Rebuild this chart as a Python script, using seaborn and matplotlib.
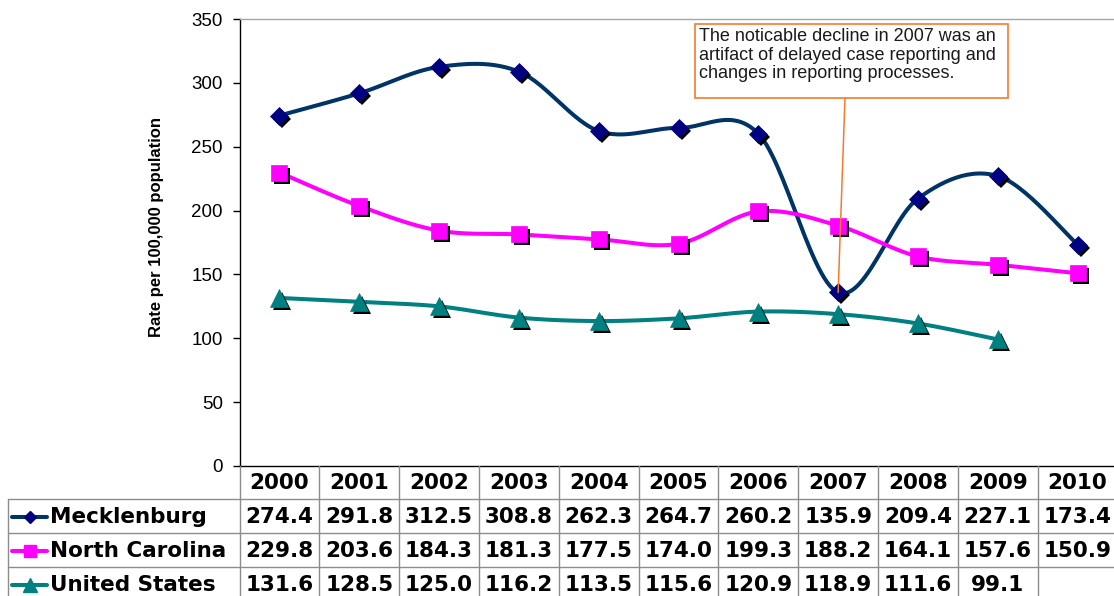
import numpy as np
import pandas as pd
import matplotlib
matplotlib.use("Agg")
import matplotlib.pyplot as plt
import matplotlib.transforms as mtransforms
from matplotlib.patches import Rectangle
from matplotlib.lines import Line2D
import seaborn as sns

# ---- data -------------------------------------------------------------
years = [2000, 2001, 2002, 2003, 2004, 2005, 2006, 2007, 2008, 2009, 2010]
mecklenburg = [274.4, 291.8, 312.5, 308.8, 262.3, 264.7, 260.2, 135.9, 209.4, 227.1, 173.4]
north_carolina = [229.8, 203.6, 184.3, 181.3, 177.5, 174.0, 199.3, 188.2, 164.1, 157.6, 150.9]
united_states = [131.6, 128.5, 125.0, 116.2, 113.5, 115.6, 120.9, 118.9, 111.6, 99.1, None]
series_names = ["Mecklenburg", "North Carolina", "United States"]
y_ticks = [0, 50, 100, 150, 200, 250, 300, 350]
y_label = "Rate per 100,000 population"
note_text = ("The noticable decline in 2007 was an\n"
             "artifact of delayed case reporting and\n"
             "changes in reporting processes.")
note_year = 2007

# ---- styling ------------------------------------------------------------
line_colors = ["#003366", "#FF00FF", "#008080"]
marker_faces = ["#000080", "#FF00FF", "#008080"]
marker_shapes = ["D", "s", "^"]
marker_sizes = [8.8, 12.0, 13.5]
key_marker_sizes = [6.5, 9.0, 10.0]
orange = "#F47A2E"
grid_gray = "#8C8C8C"

sns.set_theme(style="white")
plt.rcParams["font.family"] = ["Liberation Sans", "DejaVu Sans"]

W, H = 1114, 596
fig = plt.figure(figsize=(W / 100, H / 100), dpi=100)
ax_left, ax_right, ax_top, ax_bottom = 239.5, 1117.5, 19, 466
ax = fig.add_axes([ax_left / W, 1 - ax_bottom / H,
                   (ax_right - ax_left) / W, (ax_bottom - ax_top) / H])


def smooth_curve(xv, yv, steps=30):
    """Cubic Bezier pieces with Catmull-Rom tangents (smoothed-line look)."""
    pts = np.column_stack([xv, yv]).astype(float)
    n = len(pts)
    t = np.linspace(0, 1, steps)[:, None]
    out = []
    for i in range(n - 1):
        p0 = pts[max(i - 1, 0)]
        p1 = pts[i]
        p2 = pts[i + 1]
        p3 = pts[min(i + 2, n - 1)]
        c1 = p1 + (p2 - p0) / 6.0
        c2 = p2 - (p3 - p1) / 6.0
        seg = ((1 - t) ** 3) * p1 + 3 * ((1 - t) ** 2) * t * c1 \
            + 3 * (1 - t) * t ** 2 * c2 + t ** 3 * p2
        out.append(seg if i == 0 else seg[1:])
    return np.vstack(out)


all_series = [mecklenburg, north_carolina, united_states]
positions = np.arange(len(years))

frames = []
for name, vals in zip(series_names, all_series):
    vals = np.array([np.nan if v is None else v for v in vals], dtype=float)
    ok = ~np.isnan(vals)
    curve = smooth_curve(positions[ok], vals[ok])
    frames.append(pd.DataFrame({"x": curve[:, 0], "y": curve[:, 1], "series": name}))
curve_df = pd.concat(frames, ignore_index=True)

sns.lineplot(data=curve_df, x="x", y="y", hue="series", hue_order=series_names,
             palette=dict(zip(series_names, line_colors)), sort=False,
             estimator=None, linewidth=2.9, legend=False, ax=ax, zorder=2)

shadow = mtransforms.offset_copy(ax.transData, fig=fig, x=3, y=-3, units="dots")
for i, vals in enumerate(all_series):
    vals = np.array([np.nan if v is None else v for v in vals], dtype=float)
    ax.plot(positions, vals, linestyle="none", marker=marker_shapes[i],
            ms=marker_sizes[i], color="black", markeredgewidth=0,
            transform=shadow, zorder=3 + 2 * i)
    ax.plot(positions, vals, linestyle="none", marker=marker_shapes[i],
            ms=marker_sizes[i], markerfacecolor=marker_faces[i],
            markeredgecolor=marker_faces[i], markeredgewidth=0.5, zorder=4 + 2 * i)

ax.set_xlim(-0.5, len(years) - 0.5)
ax.set_ylim(0, 350)
ax.set_yticks(y_ticks)
ax.set_xticks([])
ax.set_xlabel("")
ax.set_ylabel(y_label, fontsize=12, fontweight="bold", color="black")
ax.yaxis.set_label_coords((164 - ax_left) / (ax_right - ax_left), (ax_bottom - 227) / (ax_bottom - ax_top))
ax.tick_params(axis="y", which="major", left=True, length=5, width=1, color="black",
               direction="out", labelsize=13.5, labelcolor="black", pad=7)
for side in ["left", "bottom"]:
    ax.spines[side].set_color("black")
    ax.spines[side].set_linewidth(1.0)
ax.spines["top"].set_color("#A6A6A6")
ax.spines["top"].set_linewidth(1.0)
ax.spines["right"].set_visible(False)
ax.grid(False)

# ---- data table under the plot ----------------------------------------
def fy(py):
    return 1 - py / H

def fx(px):
    return px / W

tab_x = mtransforms.blended_transform_factory(ax.transData, fig.transFigure)
row_lines = [499, 533, 567]
row_centers = [517, 551, 585]
header_center = 483
label_left = 8

for j, yr in enumerate(years):
    fig.text(0, 0, str(yr), transform=tab_x, fontsize=15.5, fontweight="bold",
             family=["DejaVu Sans"], ha="center", va="center", color="black").set_position((j, fy(header_center)))

for i, (name, vals) in enumerate(zip(series_names, all_series)):
    yc = fy(row_centers[i])
    for j, v in enumerate(vals):
        if v is None:
            continue
        fig.text(j, yc, f"{v:.1f}", transform=tab_x, fontsize=15.5,
                 fontweight="bold", family=["DejaVu Sans"], ha="center",
                 va="center", color="black")
    fig.text(fx(50), yc, name, fontsize=15.5, fontweight="bold",
             family=["DejaVu Sans"], ha="left", va="center", color="black")
    # legend key: line segment with marker
    fig.add_artist(Line2D([fx(12), fx(47)], [yc, yc], color=line_colors[i],
                          linewidth=2.9, transform=fig.transFigure))
    fig.add_artist(Line2D([fx(29.5)], [yc], linestyle="none", marker=marker_shapes[i],
                          ms=key_marker_sizes[i], markerfacecolor=marker_faces[i],
                          markeredgecolor=marker_faces[i], transform=fig.transFigure))

# horizontal grid lines of the table
for py in row_lines:
    fig.add_artist(Line2D([fx(label_left), 1], [fy(py), fy(py)], color=grid_gray,
                          linewidth=1.0, transform=fig.transFigure))
# vertical lines: label column edge and year column boundaries
fig.add_artist(Line2D([fx(label_left), fx(label_left)], [fy(row_lines[0]), 0],
                      color=grid_gray, linewidth=1.0, transform=fig.transFigure))
for j in range(len(years) + 1):
    fig.add_artist(Line2D([j - 0.5, j - 0.5], [fy(ax_bottom), 0], color=grid_gray,
                          linewidth=1.0, transform=tab_x))

# ---- annotation box ----------------------------------------------------
box_l, box_r, box_t, box_b = 695, 1008, 23.5, 97.5
fig.add_artist(Rectangle((fx(box_l), fy(box_b)), (box_r - box_l) / W, (box_b - box_t) / H,
                         facecolor="white", edgecolor=orange, linewidth=1.2,
                         transform=fig.transFigure, zorder=10))
fig.text(fx(699), fy(28), note_text, fontsize=13, ha="left", va="top",
         linespacing=1.12, color="#1a1a1a", zorder=11)
ax.annotate("", xy=(years.index(note_year), mecklenburg[years.index(note_year)]),
            xycoords="data", xytext=(845, H - box_b), textcoords="figure pixels",
            arrowprops=dict(arrowstyle="-", color=orange, linewidth=1.1,
                            shrinkA=0, shrinkB=0), zorder=12)

fig.savefig("out.png", dpi=100, facecolor="white")
